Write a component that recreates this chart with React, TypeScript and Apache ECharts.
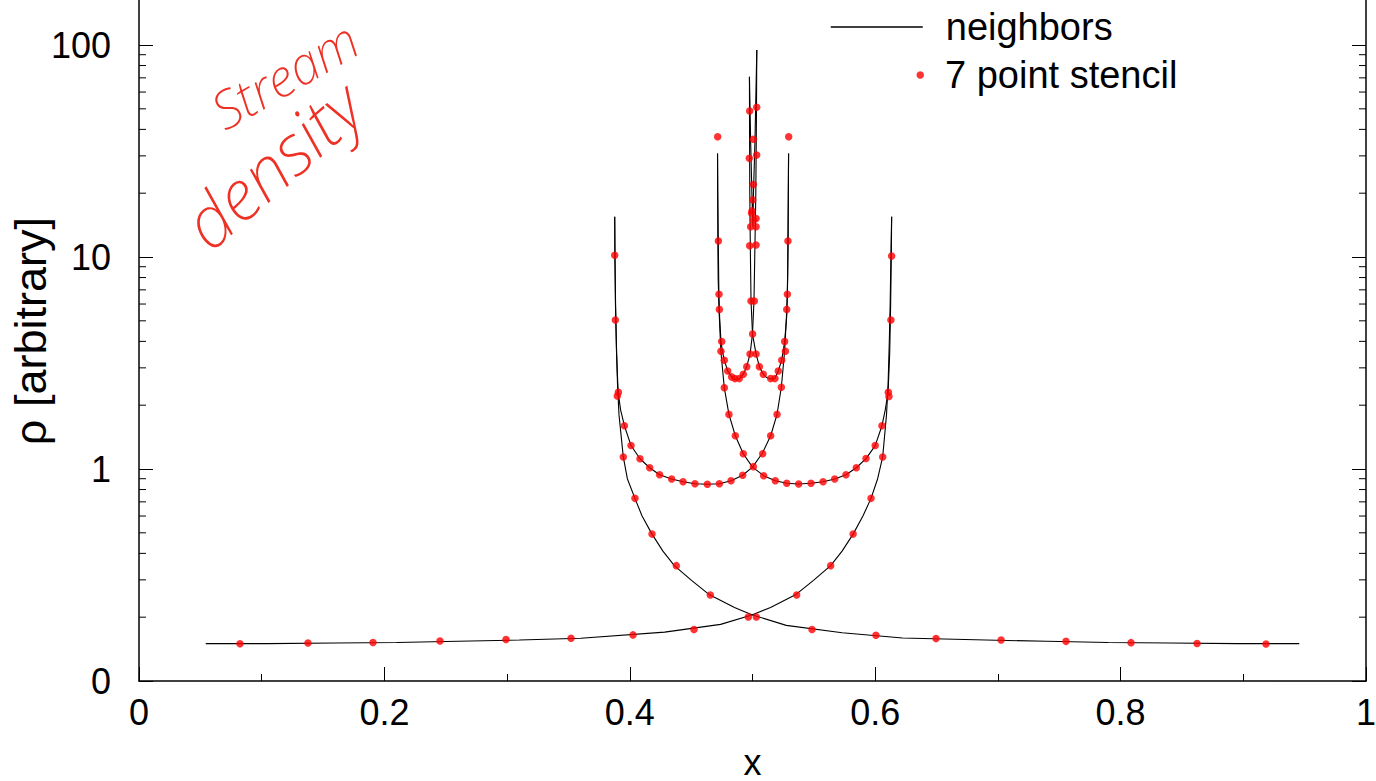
import React, { useEffect, useRef } from 'react';
import * as echarts from 'echarts';

// ---- axis ticks / labels ----
const X_TICKS = [0, 0.2, 0.4, 0.6, 0.8, 1];
const X_LABELS = ['0', '0.2', '0.4', '0.6', '0.8', '1'];
const Y_MIN = 0.1;
const Y_MAX = 200;
const Y_MAJOR = [0.1, 1, 10, 100];
const Y_LABELS = ['0', '1', '10', '100'];
const Y_MINOR = [0.2, 0.3, 0.4, 0.5, 0.6, 0.7, 0.8, 0.9, 2, 3, 4, 5, 6, 7, 8, 9, 20, 30, 40, 50, 60, 70, 80, 90];

// ---- "neighbors" line branches [x, rho] ----
const stream1Left = [
  [0.0544, 0.15], [0.105, 0.15], [0.16, 0.151], [0.21, 0.152], [0.26, 0.154], [0.31, 0.156], [0.36, 0.159],
  [0.4284, 0.17], [0.474, 0.185], [0.4994, 0.205], [0.5147, 0.222], [0.535, 0.255], [0.5497, 0.2985],
  [0.5637, 0.35], [0.573, 0.41], [0.582, 0.493], [0.59, 0.6], [0.5966, 0.727], [0.602, 0.9], [0.6061, 1.14],
  [0.6092, 1.8], [0.6105, 2.5], [0.6115, 4], [0.6122, 6], [0.6128, 10], [0.6134, 15.5],
];
const stream1Right = [
  [0.9456, 0.15], [0.895, 0.15], [0.84, 0.151], [0.79, 0.152], [0.74, 0.154], [0.69, 0.156], [0.6223, 0.1596],
  [0.5731, 0.169], [0.5275, 0.183], [0.5, 0.205], [0.4853, 0.222], [0.465, 0.255], [0.4503, 0.2985],
  [0.4363, 0.35], [0.427, 0.41], [0.4181, 0.493], [0.41, 0.6], [0.4042, 0.727], [0.398, 0.9], [0.3947, 1.14],
  [0.3912, 1.8], [0.39, 2.5], [0.389, 4], [0.3883, 6], [0.3879, 10], [0.3877, 15.5],
];
const stream2Left = [
  [0.3877, 15.5], [0.3879, 10], [0.3884, 6], [0.3892, 3.5], [0.3905, 2.3], [0.3925, 1.9], [0.3956, 1.6],
  [0.401, 1.29], [0.4083, 1.118], [0.4162, 1.014], [0.4243, 0.94], [0.4341, 0.897], [0.4434, 0.871],
  [0.4531, 0.852], [0.4632, 0.847], [0.473, 0.852], [0.4825, 0.881], [0.492, 0.934], [0.5, 1.02],
  [0.508, 1.186], [0.5148, 1.435], [0.52, 1.81], [0.5235, 2.43], [0.5262, 3.6], [0.528, 5.66],
  [0.5287, 8], [0.529, 11.9], [0.5292, 20], [0.5294, 30.8],
];
const stream2Right = [
  [0.6134, 15.5], [0.6131, 10], [0.6126, 6], [0.6118, 3.5], [0.6105, 2.3], [0.6082, 1.9], [0.6055, 1.6],
  [0.6, 1.29], [0.5925, 1.12], [0.5846, 1.014], [0.5762, 0.94], [0.567, 0.897], [0.5575, 0.87],
  [0.5477, 0.856], [0.5376, 0.85], [0.5279, 0.856], [0.5186, 0.88], [0.5091, 0.93], [0.5, 1.02],
  [0.4925, 1.18], [0.486, 1.435], [0.4808, 1.81], [0.477, 2.42], [0.4742, 3.6], [0.4727, 5.66],
  [0.472, 8], [0.4718, 11.9], [0.4716, 20], [0.4715, 30.8],
];
const stream3Left = [
  [0.4715, 30.8], [0.4717, 20], [0.4721, 11.9], [0.4726, 6.67], [0.4732, 5.2], [0.4743, 4.0], [0.4755, 3.59],
  [0.477, 3.26], [0.4798, 2.9], [0.483, 2.72], [0.4857, 2.64], [0.4893, 2.66], [0.4925, 2.8], [0.4953, 3.04],
  [0.498, 3.49], [0.5, 4.33], [0.5012, 6.2], [0.502, 11.4], [0.5027, 20], [0.5032, 45], [0.5035, 94.7],
];
const stream3Right = [
  [0.5294, 30.8], [0.5292, 20], [0.5289, 11.9], [0.5284, 6.67], [0.5278, 5.2], [0.5262, 3.99], [0.525, 3.59],
  [0.5238, 3.26], [0.521, 2.9], [0.5183, 2.68], [0.5148, 2.66], [0.5115, 2.7], [0.5088, 2.8], [0.5056, 3.04],
  [0.5029, 3.49], [0.5, 4.33], [0.4988, 6.2], [0.4982, 11.4], [0.4978, 20], [0.4976, 40], [0.4975, 70.8],
];
const streamCore = [
  [0.4975, 70.8], [0.4985, 35], [0.4995, 20], [0.5003, 14], [0.5008, 20], [0.502, 35], [0.5035, 94.7],
];
const neighborBranches = [stream1Left, stream1Right, stream2Left, stream2Right, stream3Left, stream3Right, streamCore];

// ---- "7 point stencil" points [x, rho] ----
const dotsFlat = [
  [0.0823, 0.15], [0.1377, 0.151], [0.1907, 0.152], [0.2453, 0.1545], [0.2991, 0.157], [0.3521, 0.159],
  [0.4026, 0.165], [0.4523, 0.175], [0.4966, 0.2005], [0.5031, 0.2005], [0.5485, 0.175], [0.6006, 0.1644],
  [0.6496, 0.1585], [0.7026, 0.156], [0.7555, 0.1538], [0.8085, 0.1517], [0.8623, 0.1504], [0.9185, 0.1494],
];
const dotsSteep = [
  [0.536, 0.2547], [0.5637, 0.35], [0.582, 0.493], [0.5966, 0.727], [0.6061, 1.14],
  [0.4656, 0.2547], [0.4379, 0.35], [0.4181, 0.493], [0.4042, 0.727], [0.3947, 1.14],
];
const dotsOuterFold = [
  [0.3877, 10.2], [0.3882, 5.04], [0.3907, 2.3], [0.3898, 2.21],
  [0.6134, 10.1], [0.6128, 5.04], [0.6107, 2.3], [0.6112, 2.2],
];
const dotsU = [
  [0.3956, 1.6], [0.401, 1.29], [0.4083, 1.118], [0.4162, 1.014], [0.4243, 0.94], [0.4341, 0.897],
  [0.4434, 0.871], [0.4531, 0.852], [0.4632, 0.847], [0.473, 0.852], [0.4825, 0.881], [0.492, 0.934],
  [0.5007, 1.026], [0.6055, 1.6], [0.6, 1.29], [0.5925, 1.12], [0.5846, 1.014], [0.5762, 0.94],
  [0.567, 0.897], [0.5575, 0.87], [0.5477, 0.856], [0.5376, 0.85], [0.5279, 0.856], [0.5186, 0.88], [0.5091, 0.93],
];
const dotsInner = [
  [0.5083, 1.18], [0.5148, 1.435], [0.52, 1.81], [0.5235, 2.43],
  [0.4925, 1.18], [0.486, 1.435], [0.4808, 1.81], [0.477, 2.42],
  [0.5295, 36.9], [0.5289, 11.9], [0.5284, 6.67], [0.5279, 5.66], [0.5262, 3.99], [0.5268, 3.59], [0.5238, 3.26],
  [0.521, 2.9], [0.5183, 2.67], [0.5148, 2.67], [0.5088, 2.8], [0.5056, 3.04], [0.5029, 3.49],
  [0.4716, 36.9], [0.4722, 11.9], [0.4727, 6.67], [0.473, 5.66], [0.4749, 3.99], [0.4743, 3.59], [0.477, 3.26],
  [0.4798, 2.9], [0.483, 2.72], [0.4857, 2.67], [0.4893, 2.67], [0.4925, 2.8], [0.4953, 3.04], [0.498, 3.49],
];
const dotsCore = [
  [0.5001, 4.33], [0.4988, 6.2], [0.5015, 6.2], [0.4977, 11.3], [0.5029, 11.4], [0.4985, 13.9], [0.5029, 13.9],
  [0.5007, 14.9], [0.5029, 15.2], [0.4993, 16.1], [0.4996, 16.5], [0.5002, 18.6], [0.5007, 22.0],
  [0.4974, 29.2], [0.5034, 30.3], [0.5007, 35.9], [0.4977, 48.8], [0.5034, 50.8],
];
const stencilPoints = [...dotsFlat, ...dotsSteep, ...dotsOuterFold, ...dotsU, ...dotsInner, ...dotsCore];

const FONT = '"Liberation Sans", Arial, Helvetica, sans-serif';
const NOTE_FONT = '"Noto Sans", "DejaVu Sans", sans-serif';

function yLabel(v: number): string {
  for (let i = 0; i < Y_MAJOR.length; i++) {
    if (Math.abs(Math.log10(v) - Math.log10(Y_MAJOR[i])) < 1e-6) return Y_LABELS[i];
  }
  return '';
}
function xLabel(v: number): string {
  for (let i = 0; i < X_TICKS.length; i++) {
    if (Math.abs(v - X_TICKS[i]) < 1e-9) return X_LABELS[i];
  }
  return '';
}

export default function App() {
  const ref = useRef<HTMLDivElement>(null);
  useEffect(() => {
    if (!ref.current) return;
    const chart = echarts.init(ref.current, null, { renderer: 'svg' });
    const axisLine = { show: true, lineStyle: { color: '#000', width: 1.5 } };
    const lineSeries = neighborBranches.map((b) => ({
      type: 'line',
      name: 'neighbors',
      data: b,
      symbol: 'none',
      showSymbol: false,
      lineStyle: { color: '#000', width: 1.1 },
      itemStyle: { color: '#000' },
      z: 2,
      silent: true,
    }));
    const option: any = {
      animation: false,
      backgroundColor: '#fff',
      grid: { left: 139, right: 10, top: -18.8, bottom: 100, containLabel: false, outerBoundsMode: 'none' },
      legend: [
        {
          data: ['neighbors'],
          left: 830,
          top: 8,
          padding: 0,
          itemWidth: 92,
          itemHeight: 14,
          selectedMode: false,
          itemStyle: { color: 'rgba(0,0,0,0)', borderColor: 'rgba(0,0,0,0)', borderWidth: 0 },
          lineStyle: { color: '#000', width: 1.5 },
          textStyle: { fontFamily: FONT, fontSize: 38, color: '#000', padding: [0, 0, 0, 18] },
        },
        {
          data: [{ name: '7 point stencil', icon: 'circle' }],
          left: 916.5,
          top: 56,
          padding: 0,
          itemWidth: 7.5,
          itemHeight: 7.5,
          selectedMode: false,
          textStyle: { fontFamily: FONT, fontSize: 38, color: '#000', padding: [0, 0, 0, 16] },
        },
      ],
      xAxis: {
        type: 'value',
        min: 0,
        max: 1,
        interval: 0.2,
        axisLine,
        axisTick: { inside: true, length: 14, lineStyle: { color: '#000', width: 1 } },
        minorTick: { show: true, splitNumber: 2, length: 7, lineStyle: { color: '#000', width: 1 } },
        splitLine: { show: false },
        minorSplitLine: { show: false },
        axisLabel: { formatter: xLabel, fontFamily: FONT, fontSize: 36, color: '#000', margin: 13 },
        name: 'x',
        nameLocation: 'middle',
        nameGap: 63,
        nameMoveOverlap: false,
        nameTextStyle: { fontFamily: FONT, fontSize: 36, color: '#000' },
      },
      yAxis: [
        {
          type: 'log',
          logBase: 10,
          min: Y_MIN,
          max: Y_MAX,
          position: 'left',
          axisLine,
          axisTick: { inside: true, length: 14, lineStyle: { color: '#000', width: 1 } },
          splitLine: { show: false },
          axisLabel: { formatter: yLabel, fontFamily: FONT, fontSize: 36, color: '#000', margin: 28 },
          name: 'ρ [arbitrary]',
          nameLocation: 'middle',
          nameRotate: 90,
          nameGap: 86,
          nameMoveOverlap: false,
          nameTextStyle: { fontFamily: FONT, fontSize: 45, color: '#000' },
        },
        {
          type: 'log',
          logBase: 10,
          min: Y_MIN,
          max: Y_MAX,
          position: 'right',
          axisLine,
          axisTick: { inside: true, length: 14, lineStyle: { color: '#000', width: 1 } },
          splitLine: { show: false },
          axisLabel: { show: false },
        },
      ],
      series: [
        {
          type: 'custom',
          name: 'minorTicks',
          silent: true,
          clip: false,
          data: Y_MINOR.map((v) => [0, v]),
          renderItem: (_p: any, api: any) => {
            const v = api.value(1);
            const l = api.coord([0, v]);
            const r = api.coord([1, v]);
            return {
              type: 'group',
              children: [
                { type: 'line', shape: { x1: l[0], y1: l[1], x2: l[0] + 7, y2: l[1] }, style: { stroke: '#000', lineWidth: 1 } },
                { type: 'line', shape: { x1: r[0] - 7, y1: r[1], x2: r[0], y2: r[1] }, style: { stroke: '#000', lineWidth: 1 } },
              ],
            };
          },
          z: 1,
        },
        ...lineSeries,
        {
          type: 'scatter',
          name: '7 point stencil',
          data: stencilPoints,
          symbol: 'circle',
          symbolSize: 7.5,
          itemStyle: { color: '#ff0000' },
          z: 3,
          silent: true,
        },
      ],
      graphic: [
        {
          type: 'text',
          x: 284,
          y: 74,
          rotation: (30 * Math.PI) / 180,
          style: {
            text: 'Stream',
            fill: '#ee3124',
            fontFamily: NOTE_FONT,
            fontStyle: 'italic',
            fontWeight: 200,
            fontSize: 52,
            align: 'center',
            verticalAlign: 'middle',
          },
        },
        {
          type: 'text',
          x: 272,
          y: 164,
          rotation: (41 * Math.PI) / 180,
          style: {
            text: 'density',
            fill: '#ee3124',
            fontFamily: NOTE_FONT,
            fontStyle: 'italic',
            fontWeight: 200,
            fontSize: 70,
            align: 'center',
            verticalAlign: 'middle',
          },
        },
      ],
    };
    chart.setOption(option);
    return () => chart.dispose();
  }, []);
  return (
    <div
      ref={ref}
      style={{ position: 'fixed', left: 0, top: 0, width: 1376, height: 781, background: '#fff' }}
    />
  );
}
